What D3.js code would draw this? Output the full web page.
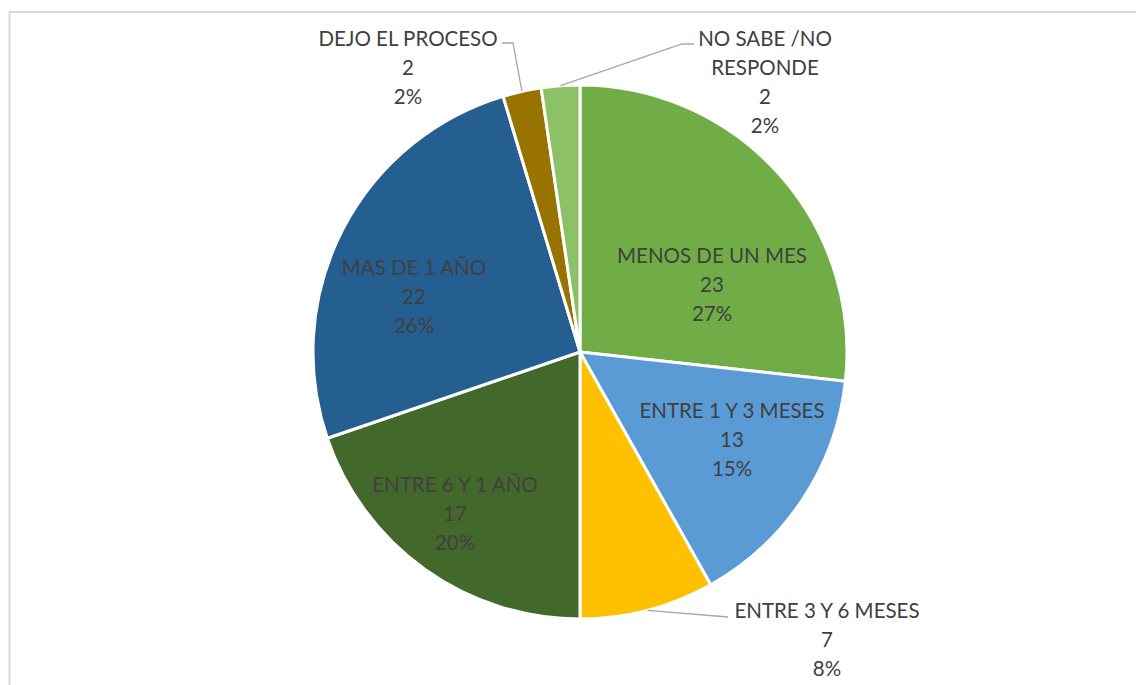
<!DOCTYPE html>
<html>
<head>
<meta charset="utf-8">
<script src="https://cdn.jsdelivr.net/npm/d3@7"></script>
<style>
  body { margin: 0; background: #fff; }
  svg { display: block; }
  .lbl { font-family: Lato, "Open Sans", sans-serif; font-size: 20.5px; fill: #404040; }
</style>
</head>
<body>
<div id="chart"></div>
<script>
// chart data
const categories = ["MENOS DE UN MES", "ENTRE 1 Y 3 MESES", "ENTRE 3 Y 6 MESES", "ENTRE 6 Y 1 AÑO", "MAS DE 1 AÑO", "DEJO EL PROCESO", "NO SABE /NO RESPONDE"];
const counts = [23, 13, 7, 17, 22, 2, 2];
const percents = ["27%", "15%", "8%", "20%", "26%", "2%", "2%"];
const colors = ["#70AD47", "#5B9BD5", "#FFC000", "#43682B", "#255E91", "#997300", "#8CC168"];

// label placement (center of middle line), plus optional leader line elbow/end
const labelLayout = {
  "MENOS DE UN MES": { x: 712, y: 285 },
  "ENTRE 1 Y 3 MESES": { x: 732, y: 440 },
  "ENTRE 3 Y 6 MESES": { x: 827, y: 640, leader: [[728, 617]] },
  "ENTRE 6 Y 1 AÑO": { x: 455, y: 514 },
  "MAS DE 1 AÑO": { x: 414, y: 297 },
  "DEJO EL PROCESO": { x: 408, y: 68, leader: [[513, 43], [502, 43]] },
  "NO SABE /NO RESPONDE": { x: 765, y: 82.5, leader: [[682, 44], [694, 44]] }
};

main();

function main() {
  const width = 1136, height = 685;
  const cx = 580, cy = 352, radius = 267;

  const svg = d3.select("#chart").append("svg")
      .attr("width", width)
      .attr("height", height);

  // chart area border
  svg.append("rect")
      .attr("x", 9.5).attr("y", 12)
      .attr("width", 1200).attr("height", 1000)
      .attr("fill", "none")
      .attr("stroke", "#D9D9D9")
      .attr("stroke-width", 2);

  const data = categories.map((c, i) => ({ name: c, value: counts[i], pct: percents[i], color: colors[i] }));

  const pie = d3.pie().value(d => d.value).sort(null).startAngle(0).endAngle(2 * Math.PI);
  const arc = d3.arc().innerRadius(0).outerRadius(radius);
  const arcs = pie(data);

  const g = svg.append("g").attr("transform", `translate(${cx},${cy})`);

  g.selectAll(".slice")
    .data(arcs)
    .enter()
    .append("path")
      .attr("class", "slice")
      .attr("d", arc)
      .attr("fill", d => d.data.color)
      .attr("stroke", "#fff")
      .attr("stroke-width", 3)
      .attr("stroke-linejoin", "round");

  // leader lines from slice edge to label
  const line = d3.line();
  arcs.forEach(d => {
    const lay = labelLayout[d.data.name];
    if (!lay.leader) return;
    const mid = (d.startAngle + d.endAngle) / 2;
    const start = [cx + radius * Math.sin(mid), cy - radius * Math.cos(mid)];
    svg.append("path")
        .attr("d", line([start].concat(lay.leader)))
        .attr("fill", "none")
        .attr("stroke", "#A6A6A6")
        .attr("stroke-width", 1.3);
  });

  // labels
  const lineH = 29;
  arcs.forEach(d => {
    const lay = labelLayout[d.data.name];
    let lines = [d.data.name, String(d.data.value), d.data.pct];
    if (d.data.name === "NO SABE /NO RESPONDE") lines = ["NO SABE /NO", "RESPONDE", String(d.data.value), d.data.pct];
    const y0 = lay.y - (lines.length - 1) * lineH / 2;
    const t = svg.append("text")
        .attr("class", "lbl")
        .attr("text-anchor", "middle");
    lines.forEach((s, i) => {
      t.append("tspan")
          .attr("x", lay.x)
          .attr("y", y0 + i * lineH)
          .attr("dy", "0.35em")
          .text(s);
    });
  });
}
</script>
</body>
</html>
